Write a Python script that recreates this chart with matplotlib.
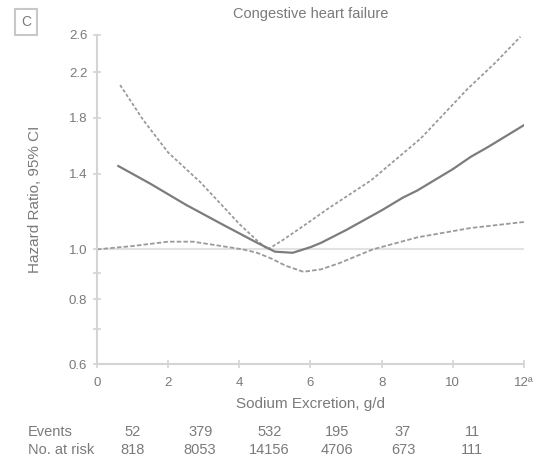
import numpy as np
import matplotlib.pyplot as plt
from matplotlib.ticker import FixedLocator, NullFormatter

plt.rcParams['font.family'] = ['Liberation Sans', 'DejaVu Sans']

# hazard ratio curve (solid)
hr_x = [0.6, 1.5, 2.5, 3.5, 4.5, 5.0, 5.5, 6.0, 6.3, 7.0, 8.0, 8.6, 9.0, 10.0, 10.5, 11.0, 12.0]
hr_y = [1.45, 1.34, 1.22, 1.12, 1.03, 0.99, 0.985, 1.01, 1.03, 1.09, 1.19, 1.26, 1.30, 1.43, 1.51, 1.58, 1.74]

# upper 95% CI (dotted)
up_x = [0.65, 1.3, 2.0, 2.9, 3.5, 4.0, 4.5, 4.8, 5.2, 5.8, 6.5, 7.7, 9.1, 10.4, 11.2, 11.9]
up_y = [2.08, 1.78, 1.54, 1.35, 1.22, 1.12, 1.04, 1.0, 1.04, 1.11, 1.2, 1.36, 1.64, 2.04, 2.3, 2.58]

# lower 95% CI (dashed)
lo_x = [0, 1.0, 2.0, 2.7, 3.5, 4.1, 4.5, 4.9, 5.3, 5.8, 6.3, 6.8, 7.75, 9.0, 10.5, 12.0]
lo_y = [1.0, 1.015, 1.035, 1.035, 1.015, 1.0, 0.985, 0.96, 0.93, 0.905, 0.915, 0.94, 1.0, 1.055, 1.10, 1.13]

yticks = [0.6, 0.8, 1.0, 1.4, 1.8, 2.2, 2.6]
xticks = [0, 2, 4, 6, 8, 10, 12]
xticklabels = ['0', '2', '4', '6', '8', '10', '12ª']

events = ['52', '379', '532', '195', '37', '11']
at_risk = ['818', '8053', '14156', '4706', '673', '111']
table_x = [1.0, 2.9, 4.85, 6.75, 8.6, 10.55]

txt = '#7a7a7a'
spine = '#d4d4d4'
fs = 10.5

fig = plt.figure(figsize=(5.37, 4.58), dpi=100)
ax = fig.add_axes([0.1806, 0.2052, 0.7952, 0.7184])

ax.axhline(1.0, color='#e2e2e2', lw=1.5, zorder=1)
ax.plot(lo_x, lo_y, color='#9a9a9a', lw=1.3, ls=(0, (2.5, 1.2)), zorder=2)
ax.plot(up_x, up_y, color='#9a9a9a', lw=1.3, ls=(0, (1.8, 1.2)), zorder=2)
ax.plot(hr_x, hr_y, color='#7c7c7c', lw=1.6, zorder=3)

ax.set_yscale('log')
ax.set_ylim(0.6, 2.6)
ax.set_xlim(0, 12)
ax.yaxis.set_major_locator(FixedLocator(yticks))
ax.yaxis.set_minor_locator(FixedLocator([0.7, 0.9]))
ax.yaxis.set_minor_formatter(NullFormatter())
ax.set_yticklabels([f'{v:.1f}' for v in yticks])
ax.set_xticks(xticks)
ax.set_xticklabels(xticklabels)

for s in ['top', 'right']:
    ax.spines[s].set_visible(False)
for s in ['left', 'bottom']:
    ax.spines[s].set_color(spine)
    ax.spines[s].set_linewidth(1.5)
ax.tick_params(which='both', direction='inout', length=6, width=1.2, color=spine,
               labelsize=9.5, labelcolor=txt)
ax.tick_params(axis='x', pad=6)
ax.tick_params(axis='y', pad=4)

ax.set_xlabel('Sodium Excretion, g/d', fontsize=fs + 0.5, color=txt, labelpad=6)
ax.set_ylabel('Hazard Ratio, 95% CI', fontsize=fs + 0.5, color=txt, labelpad=19)
fig.text(311 / 537, 1 - 14 / 458, 'Congestive heart failure', fontsize=fs, color=txt,
         ha='center', va='center')

fig.text(26 / 537, 1 - 22 / 458, 'C', fontsize=10, color=txt, ha='center', va='center',
         bbox=dict(boxstyle='square,pad=0.45', fc='white', ec='#c8c8c8', lw=1.5))

# numbers below the axis
trans = ax.get_xaxis_transform()
fig.text(28 / 537, 1 - 432 / 458, 'Events', fontsize=fs, color=txt, ha='left', va='center')
fig.text(28 / 537, 1 - 450 / 458, 'No. at risk', fontsize=fs, color=txt, ha='left', va='center')
for xp, e, n in zip(table_x, events, at_risk):
    ax.text(xp, (364 - 432) / 329, e, transform=trans, fontsize=fs,
            color=txt, ha='center', va='center', clip_on=False)
    ax.text(xp, (364 - 450) / 329, n, transform=trans, fontsize=fs,
            color=txt, ha='center', va='center', clip_on=False)

fig.savefig('out.png', dpi=100)
